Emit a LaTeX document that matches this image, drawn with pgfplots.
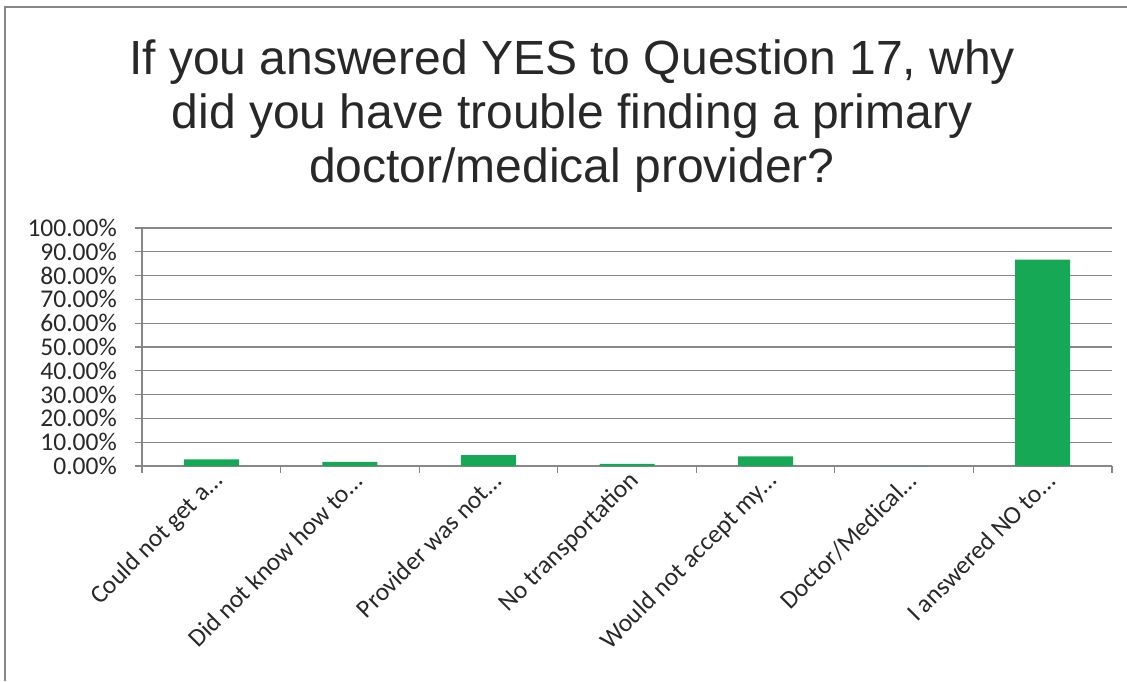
\documentclass[border=0pt]{standalone}
\usepackage{fontspec}
\setmainfont{Carlito}
\newfontfamily\arialfont{Liberation Sans}
\usepackage{pgfplots}
\pgfplotsset{compat=1.18}
\definecolor{bargreen}{RGB}{22,168,84}
\definecolor{gridgray}{RGB}{135,135,135}
\definecolor{txt}{RGB}{40,40,40}
\begin{document}
\begin{tikzpicture}[x=1pt,y=1pt]
\path[use as bounding box] (0,0) rectangle (1127,681);
\draw[gridgray, line width=1.2pt] (5,0) -- (5,674) -- (1127,674);
\node[font=\arialfont\fontsize{48}{54}\selectfont, text=txt, align=center, anchor=north, inner sep=0pt] at (572,641)
  {If you answered YES to Question 17, why\\did you have trouble finding a primary\\doctor/medical provider?};
\begin{axis}[
  at={(142pt,215pt)}, anchor=south west,
  scale only axis, width=970pt, height=238pt,
  ymin=0, ymax=100, xmin=-0.5, xmax=6.5,
  axis x line*=bottom, axis y line*=left,
  axis line style={gridgray, line width=1.2pt},
  ymajorgrids, grid style={gridgray, line width=1.2pt},
  ytick={0,10,...,100},
  yticklabel={\pgfmathprintnumber[fixed,fixed zerofill,precision=2]{\tick}\%},
  /pgf/number format/assume math mode=true,
  xtick={-0.5,0.5,...,6.5},
  x tick label as interval,
  xticklabels={Could not get a\ldots, Did not know how to\ldots, Provider was not\ldots, No transportation, Would not accept my\ldots, Doctor/Medical\ldots, I answered NO to\ldots},
  tick align=outside, major tick length=7pt,
  tick style={gridgray, line width=1.2pt},
  ticklabel style={font=\fontsize{25.5}{25.5}\selectfont, text=txt},
  xticklabel style={xshift=8pt, yshift=-4pt, rotate=45, anchor=east, inner sep=0pt},
  yticklabel style={inner sep=0pt, xshift=-18pt, anchor=east},
  ybar, bar width=55pt,
]
\addplot[fill=bargreen, draw=none] coordinates {(0,2.8) (1,1.7) (2,4.6) (3,0.9) (4,4.0) (5,0.0) (6,86.7)};
\end{axis}
\end{tikzpicture}
\end{document}
